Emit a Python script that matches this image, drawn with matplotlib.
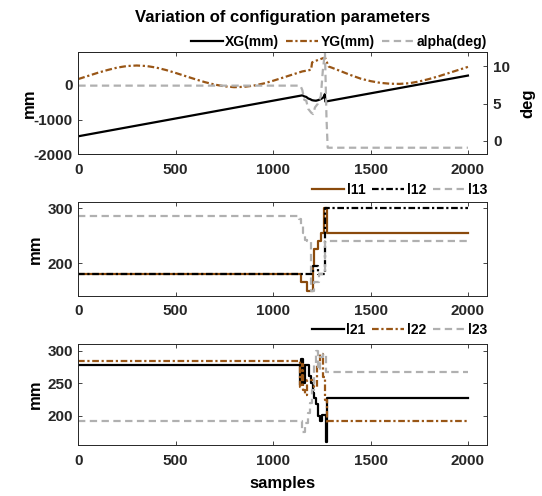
import matplotlib
matplotlib.use('Agg')
import matplotlib.pyplot as plt

plt.rcParams['font.family'] = ['Liberation Sans', 'DejaVu Sans']
plt.rcParams['font.weight'] = 'bold'
plt.rcParams['axes.unicode_minus'] = False

# values (samples -> value)
t_xg = [0, 1150, 1160, 1170, 1180, 1190, 1200, 1210, 1220, 1230, 1240, 1250, 1258, 1266, 1268, 2000]
xg = [-1480, -300, -330, -345, -390, -410, -440, -450, -455, -440, -420, -390, -360, -260, -480, 270]

t_yg = [0, 50, 100, 150, 200, 250, 300, 350, 400, 450, 500, 550, 600, 650, 700, 750, 800, 850,
        900, 950, 1000, 1050, 1100, 1150, 1180, 1195, 1200, 1230, 1266, 1285, 1300, 1350, 1400,
        1450, 1500, 1550, 1600, 1650, 1700, 1750, 1800, 1850, 1900, 1950, 2000]
yg = [170, 260, 350, 430, 500, 545, 560, 545, 500, 430, 345, 255, 165, 80, 10, -40, -65, -55,
      -20, 40, 120, 210, 300, 390, 420, 440, 650, 720, 790, 530, 500, 390, 280,
      180, 110, 60, 35, 30, 50, 100, 170, 250, 340, 430, 520]

t_alpha = [0, 1140, 1150, 1160, 1170, 1180, 1195, 1205, 1215, 1230, 1245, 1255, 1266, 1274, 1280, 2000]
alpha = [7.4, 7.4, 6.8, 5.5, 5.4, 4.3, 3.8, 3.6, 4.5, 5.0, 6.0, 9.4, 11.9, 3.0, -0.9, -0.9]

t_l11 = [0, 1141, 1176, 1203, 1212, 1230, 1245, 1262, 1278, 2000]
l11 = [180, 165, 150, 195, 225, 240, 255, 300, 255, 255]
t_l12 = [0, 1205, 1228, 1268, 2000]
l12 = [180, 195, 180, 300, 300]
t_l13 = [0, 1135, 1145, 1155, 1165, 1175, 1195, 1210, 1235, 1268, 2000]
l13 = [285, 280, 270, 255, 242, 240, 150, 165, 180, 240, 240]

t_l21 = [0, 1140, 1145, 1155, 1165, 1185, 1194, 1203, 1212, 1221, 1230, 1240, 1250, 1262, 1270, 1278, 2000]
l21 = [278, 248, 287, 250, 278, 262, 250, 235, 228, 218, 200, 192, 202, 202, 160, 227, 227]
t_l22 = [0, 1140, 1147, 1155, 1165, 1175, 1185, 1210, 1225, 1240, 1255, 1268, 1276, 1282, 2000]
l22 = [285, 245, 280, 240, 232, 255, 255, 245, 280, 295, 260, 225, 190, 192, 192]
t_l23 = [0, 1140, 1150, 1165, 1180, 1190, 1200, 1210, 1220, 1230, 1240, 1255, 1270, 2000]
l23 = [192, 192, 175, 190, 205, 220, 240, 280, 300, 270, 290, 295, 267, 267]

brown = '#8a4a0c'
brown_dd = '#995616'
grey = '#b0b0b0'
axcol = '#262626'
lw = 1.6
dashdot = (0, (3, 1.2, 1, 1.2))
dashed = (0, (3.3, 2))


def style(ax):
    for s in ax.spines.values():
        s.set_color(axcol)
        s.set_linewidth(0.7)
    ax.tick_params(direction='in', length=3, width=0.6, labelsize=11,
                   colors=axcol, top=True, right=True, pad=4)
    ax.tick_params(axis='x', pad=6)
    ax.set_xlim(0, 2100)
    ax.set_xticks([0, 500, 1000, 1500, 2000])


def legend_row(handles, labels, y):
    fig.legend(handles, labels, loc='center right', bbox_to_anchor=(0.899, y),
               ncol=3, frameon=False, fontsize=10, handlelength=2.3,
               handletextpad=0.2, columnspacing=0.5, borderpad=0, borderaxespad=0)


fig = plt.figure(figsize=(5.42, 4.96), dpi=100)
ax1 = fig.add_axes([0.1445, 0.6889, 0.7548, 0.2063])
ax2 = fig.add_axes([0.1445, 0.4032, 0.7548, 0.1895])
ax3 = fig.add_axes([0.1445, 0.1022, 0.7548, 0.2049])

# top panel, two y axes
style(ax1)
ax1.tick_params(axis='y', right=False)
h1, = ax1.plot(t_xg, xg, color='black', lw=lw)
h2, = ax1.plot(t_yg, yg, color=brown_dd, lw=lw, ls=dashdot)
ax1.set_ylim(-2000, 950)
ax1.set_yticks([-2000, -1000, 0])
ax1b = ax1.twinx()
h3, = ax1b.plot(t_alpha, alpha, color=grey, lw=lw, ls=dashed)
ax1b.set_ylim(-1.78, 11.9)
ax1b.set_yticks([0, 5, 10])
for s in ax1b.spines.values():
    s.set_color(axcol)
    s.set_linewidth(0.7)
ax1b.tick_params(direction='in', length=3, width=0.6, labelsize=11, colors=axcol, pad=4)
ax1.set_ylabel('mm', fontsize=12, fontweight='bold', va='center')
ax1.yaxis.set_label_coords(-0.119, 0.5)
ax1b.set_ylabel('deg', fontsize=12, fontweight='bold', va='center')
ax1b.yaxis.set_label_coords(1.1, 0.5)
legend_row([h1, h2, h3], ['XG(mm)', 'YG(mm)', 'alpha(deg)'], 0.9153)

# middle panel
style(ax2)
g1, = ax2.plot(t_l11, l11, color=brown, lw=lw, drawstyle='steps-post')
g2, = ax2.plot(t_l12, l12, color='black', lw=lw, ls=dashdot, drawstyle='steps-post')
g3, = ax2.plot(t_l13, l13, color=grey, lw=lw, ls=dashed, drawstyle='steps-post')
ax2.set_ylim(140, 311)
ax2.set_yticks([200, 300])
ax2.set_ylabel('mm', fontsize=12, fontweight='bold', va='center')
ax2.yaxis.set_label_coords(-0.106, 0.5)
legend_row([g1, g2, g3], ['l11', 'l12', 'l13'], 0.617)

# bottom panel
style(ax3)
k1, = ax3.plot(t_l21, l21, color='black', lw=lw, drawstyle='steps-post')
k2, = ax3.plot(t_l22, l22, color=brown_dd, lw=lw, ls=dashdot, drawstyle='steps-post')
k3, = ax3.plot(t_l23, l23, color=grey, lw=lw, ls=dashed, drawstyle='steps-post')
ax3.set_ylim(155, 311)
ax3.set_yticks([200, 250, 300])
ax3.set_ylabel('mm', fontsize=12, fontweight='bold', va='center')
ax3.yaxis.set_label_coords(-0.106, 0.5)
ax3.set_xlabel('samples', fontsize=12, fontweight='bold', va='center')
ax3.xaxis.set_label_coords(0.5, -0.374)
legend_row([k1, k2, k3], ['l21', 'l22', 'l23'], 0.3347)

fig.text(0.5219, 0.9657, 'Variation of configuration parameters', ha='center', va='center',
         fontsize=12, fontweight='bold')

fig.savefig('out.png', dpi=100)
